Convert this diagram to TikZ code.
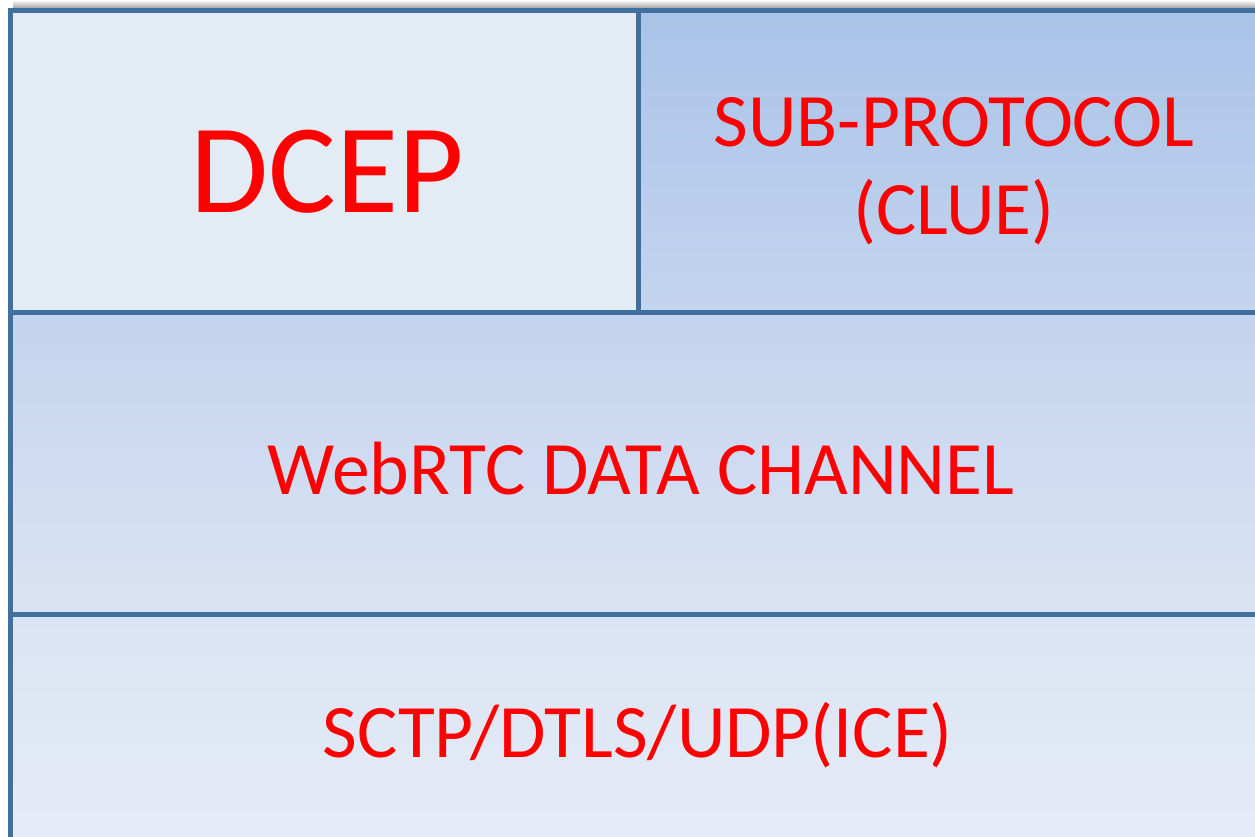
\documentclass[tikz,border=0pt]{standalone}
\usepackage{fontspec}
\setmainfont{Carlito}
\definecolor{edgeblue}{HTML}{41709F}
\definecolor{txtred}{HTML}{FF0000}
\definecolor{dcepfill}{HTML}{E3EBF5}
\definecolor{subtop}{HTML}{A9C3E8}
\definecolor{subbot}{HTML}{C4D4EE}
\definecolor{webtop}{HTML}{C4D4EE}
\definecolor{webbot}{HTML}{DAE3F3}
\definecolor{scttop}{HTML}{DBE4F3}
\definecolor{sctbot}{HTML}{E8EEF7}
\tikzset{
  layer/.style={rectangle, draw=edgeblue, line width=4.5bp, anchor=north west, inner sep=0pt, outer sep=0pt},
  lbl/.style={text=txtred, anchor=base, inner sep=0pt},
  bigfont/.style={font=\fontsize{127bp}{150bp}\selectfont},
  midfont/.style={font=\fontsize{75.5bp}{88bp}\selectfont}
}
\begin{document}
\begin{tikzpicture}[x=1bp,y=-1bp]
\useasboundingbox (0,0) rectangle (1255,837);
\clip (0,0) rectangle (1255,837);
\shade[top color=white, bottom color=black!45] (13,0) rectangle (1260,10);
\node[layer, fill=dcepfill, minimum width=628bp, minimum height=302bp] (dcep) at (10.5,10.5) {};
\node[layer, top color=subtop, bottom color=subbot, minimum width=632bp, minimum height=302bp] (sub) at (638.5,10.5) {};
\node[layer, top color=webtop, bottom color=webbot, minimum width=1260bp, minimum height=302bp] (web) at (10.5,312.5) {};
\node[layer, top color=scttop, bottom color=sctbot, minimum width=1260bp, minimum height=302bp] (sctp) at (10.5,614.5) {};
\node[lbl, bigfont] (tdcep) at (327,212) {DCEP};
\node[lbl, midfont] (tsub1) at (954,146) {SUB-PROTOCOL};
\node[lbl, midfont] (tsub2) at (954,234) {(CLUE)};
\node[lbl, midfont] (tweb) at (641,494) {WebRTC DATA CHANNEL};
\node[lbl, midfont] (tsctp) at (638,757) {SCTP/DTLS/UDP(ICE)};
\end{tikzpicture}
\end{document}
